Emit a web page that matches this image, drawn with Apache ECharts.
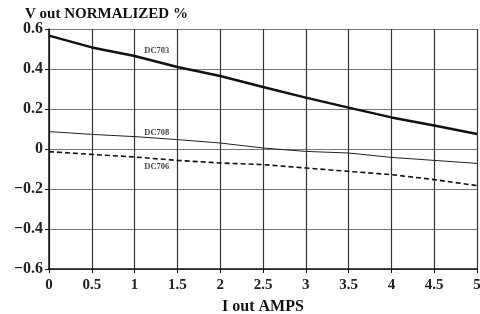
<!DOCTYPE html>
<html>
<head>
<meta charset="utf-8">
<script src="https://cdn.jsdelivr.net/npm/echarts@6/dist/echarts.min.js"></script>
<style>
  html, body { margin: 0; padding: 0; background: #fff; }
  #chart { width: 480px; height: 314px; }
</style>
</head>
<body>
<div id="chart"></div>
<script>
const xValues = [0, 0.5, 1, 1.5, 2, 2.5, 3, 3.5, 4, 4.5, 5]
const dc703 = [0.567, 0.508, 0.465, 0.41, 0.365, 0.31, 0.257, 0.207, 0.158, 0.117, 0.075]
const dc708 = [0.087, 0.073, 0.062, 0.047, 0.03, 0.005, -0.012, -0.02, -0.042, -0.057, -0.072]
const dc706 = [-0.013, -0.027, -0.04, -0.057, -0.07, -0.078, -0.095, -0.112, -0.128, -0.153, -0.183]
const curveLabels = [
  { name: 'DC703', x: 1.26, y: 0.49 },
  { name: 'DC708', x: 1.26, y: 0.08 },
  { name: 'DC706', x: 1.26, y: -0.088 }
]

const serif = '"Liberation Serif", "DejaVu Serif", serif'
const pair = (arr) => xValues.map((x, i) => [x, arr[i]])

const chart = echarts.init(document.getElementById('chart'))
chart.setOption({
  animation: false,
  title: {
    text: 'V out NORMALIZED %',
    left: 20,
    top: 2,
    textStyle: { fontFamily: serif, fontWeight: 'bold', fontSize: 15, color: '#111' }
  },
  grid: { left: 49, right: 3, top: 29, bottom: 45, containLabel: false, outerBoundsMode: 'none' },
  xAxis: {
    type: 'value',
    min: 0,
    max: 5,
    interval: 0.5,
    name: 'I out AMPS',
    nameLocation: 'middle',
    nameGap: 30,
    nameTextStyle: { fontFamily: serif, fontWeight: 'bold', fontSize: 16, color: '#111' },
    axisLine: { onZero: false, lineStyle: { color: '#111', width: 1.5 } },
    axisTick: { show: true, length: 4, lineStyle: { color: '#111' } },
    axisLabel: { fontFamily: serif, fontWeight: 'bold', fontSize: 15, color: '#222', margin: 9 },
    splitLine: { show: true, lineStyle: { color: '#333', width: 1.2 } }
  },
  yAxis: {
    type: 'value',
    min: -0.6,
    max: 0.6,
    interval: 0.2,
    axisLine: { show: true, lineStyle: { color: '#111', width: 1.5 } },
    axisTick: { show: true, length: 4, lineStyle: { color: '#111' } },
    axisLabel: {
      fontFamily: serif, fontWeight: 'bold', fontSize: 16, color: '#222', margin: 6,
      formatter: (v) => {
        const s = Math.abs(v) < 1e-9 ? '0' : String(Math.round(v * 10) / 10)
        return s.replace('-', '\u2212')
      }
    },
    splitLine: { show: true, lineStyle: { color: '#777', width: 1.2 } }
  },
  series: [
    {
      name: 'DC703',
      type: 'line',
      data: pair(dc703),
      showSymbol: false,
      lineStyle: { color: '#111', width: 2.5 }
    },
    {
      name: 'DC708',
      type: 'line',
      data: pair(dc708),
      showSymbol: false,
      lineStyle: { color: '#222', width: 1 }
    },
    {
      name: 'DC706',
      type: 'line',
      data: pair(dc706),
      showSymbol: false,
      lineStyle: { color: '#111', width: 1.6, type: [5, 3] }
    },
    {
      type: 'scatter',
      symbolSize: 0,
      data: curveLabels.map((d) => ({ name: d.name, value: [d.x, d.y] })),
      label: {
        show: true,
        position: 'inside',
        formatter: '{b}',
        fontFamily: serif,
        fontWeight: 'bold',
        fontSize: 8.5,
        color: '#111'
      }
    }
  ]
})
</script>
</body>
</html>
